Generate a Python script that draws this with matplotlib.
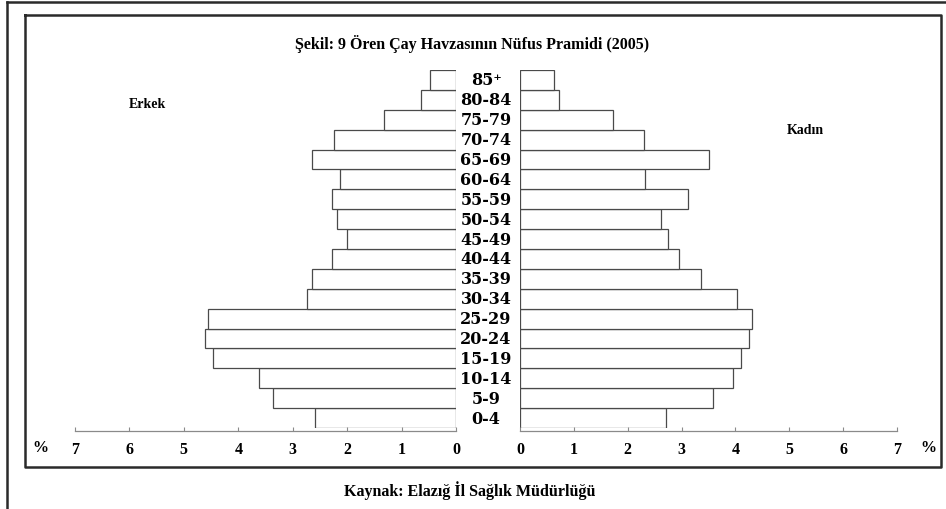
import matplotlib
matplotlib.use("Agg")
import matplotlib.pyplot as plt
from matplotlib.lines import Line2D
from matplotlib.transforms import blended_transform_factory

ages = ["0-4", "5-9", "10-14", "15-19", "20-24", "25-29", "30-34", "35-39",
        "40-44", "45-49", "50-54", "55-59", "60-64", "65-69", "70-74",
        "75-79", "80-84", "85⁺"]
erkek = [2.59, 3.37, 3.62, 4.46, 4.61, 4.55, 2.73, 2.65, 2.28, 2.00,
         2.19, 2.27, 2.14, 2.65, 2.24, 1.32, 0.65, 0.47]
kadin = [2.72, 3.58, 3.95, 4.10, 4.25, 4.30, 4.03, 3.36, 2.96, 2.75,
         2.62, 3.12, 2.33, 3.50, 2.30, 1.72, 0.72, 0.63]
ticks = [0, 1, 2, 3, 4, 5, 6, 7]

W, H = 946, 510
SERIF = "Liberation Serif"


def fx(px):
    return px / W


def fy(py):
    return 1 - py / H


fig = plt.figure(figsize=(W / 100, H / 100), dpi=100, facecolor="white")

# frames (outer partial frame + inner box)
line_kw = dict(color="#2a2a2a", linewidth=1.8, transform=fig.transFigure)
fig.add_artist(Line2D([fx(7), 1.0], [fy(3), fy(3)], **line_kw))
fig.add_artist(Line2D([fx(7), fx(7)], [fy(3), 0.0], **line_kw))
fig.add_artist(Line2D([fx(25), fx(941), fx(941), fx(25), fx(25)],
                      [fy(16), fy(16), fy(468), fy(468), fy(16)], **line_kw))

bottom, top = fy(429), fy(71)
axL = fig.add_axes([fx(75), bottom, fx(456) - fx(75), top - bottom])
axR = fig.add_axes([fx(520), bottom, fx(897) - fx(520), top - bottom])

y = range(len(ages))
axL.barh(y, erkek, height=1.0, color="white", edgecolor="#4a4a4a", linewidth=0.9)
axR.barh(y, kadin, height=1.0, color="white", edgecolor="#4a4a4a", linewidth=0.9)

for ax, inv in ((axL, True), (axR, False)):
    ax.set_xlim(0, 7)
    if inv:
        ax.invert_xaxis()
    ax.set_ylim(-0.5, len(ages) - 0.5)
    ax.patch.set_visible(False)
    for s in ("top", "left", "right"):
        ax.spines[s].set_visible(False)
    ax.spines["bottom"].set_color("#8a8a8a")
    ax.spines["bottom"].set_linewidth(0.9)
    ax.spines["bottom"].set_position(("outward", 2.2))
    ax.set_yticks([])
    ax.set_xticks(ticks)
    ax.tick_params(axis="x", direction="in", length=3, width=0.8,
                   color="#8a8a8a", pad=7)
    for lab in ax.get_xticklabels():
        lab.set_fontfamily(SERIF)
        lab.set_fontweight("bold")
        lab.set_fontsize(11.5)

# age group labels in the middle
tr = blended_transform_factory(fig.transFigure, axL.transData)
for i, a in enumerate(ages):
    axL.text(fx(486), i, a, transform=tr, ha="center", va="center",
             fontsize=11.5, fontweight="bold", family="DejaVu Serif",
             clip_on=False)

fig.text(fx(472), fy(44), "Şekil: 9 Ören Çay Havzasının Nüfus Pramidi (2005)",
         ha="center", va="center", family=SERIF, fontweight="bold", fontsize=11.5)
fig.text(fx(147), fy(105), "Erkek", ha="center", va="center",
         family=SERIF, fontweight="bold", fontsize=10)
fig.text(fx(805), fy(130), "Kadın", ha="center", va="center",
         family=SERIF, fontweight="bold", fontsize=10)
fig.text(fx(40), fy(448), "%", ha="center", va="center",
         family=SERIF, fontweight="bold", fontsize=11.5)
fig.text(fx(928), fy(448), "%", ha="center", va="center",
         family=SERIF, fontweight="bold", fontsize=11.5)
fig.text(fx(470), fy(491), "Kaynak: Elazığ İl Sağlık Müdürlüğü",
         ha="center", va="center", family=SERIF, fontweight="bold", fontsize=11.5)

plt.savefig("out.png", dpi=100, facecolor="white")
plt.close()
